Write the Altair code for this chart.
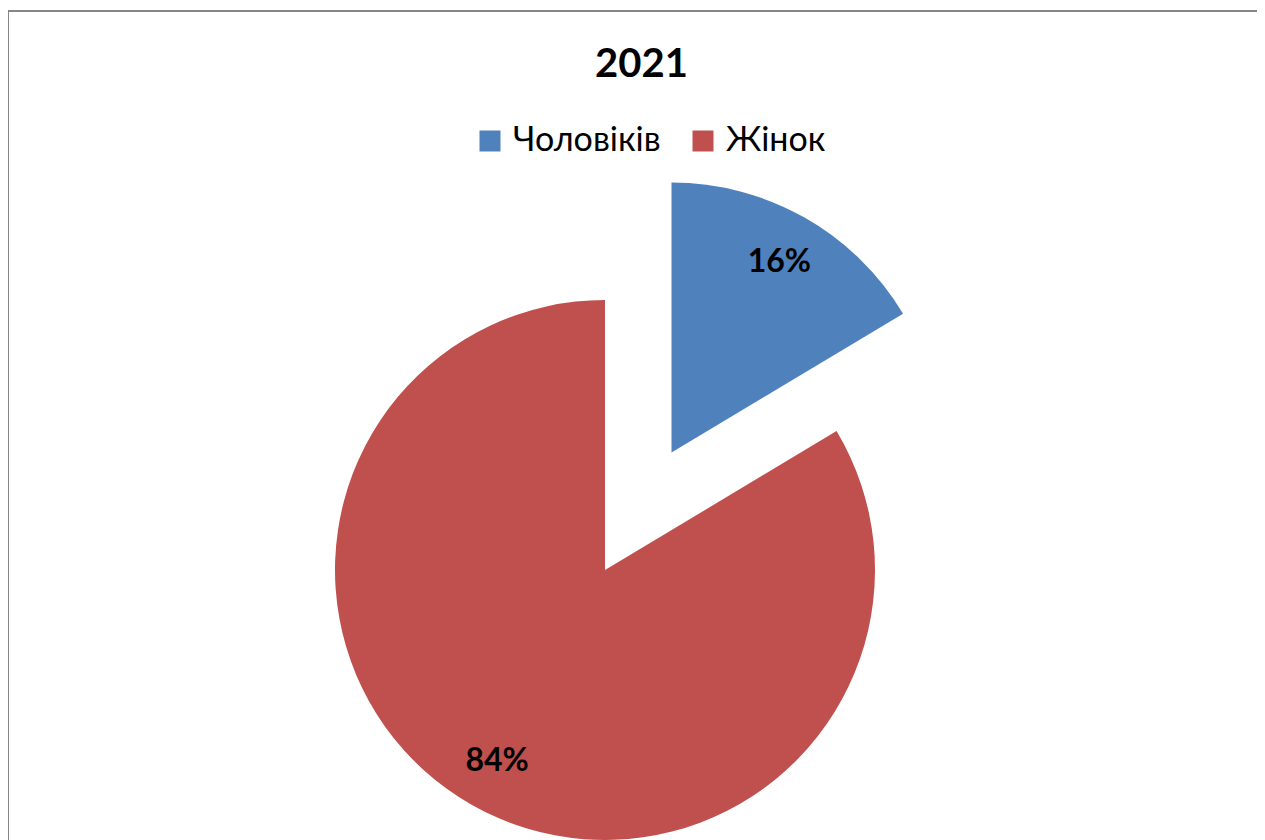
import altair as alt
import pandas as pd

# ---- data ----
TITLE = ["2021"]
CATEGORIES = ["Чоловіків", "Жінок"]
VALUES = [16.4, 83.6]

# ---- style ----
COLORS = ["#4F81BD", "#C0504D"]
EXPLODE = {"Чоловіків": 135, "Жінок": 0}
W, H = 1249, 830
CX, CY = 597, 559
R = 270
LABEL_R = 219
FONT = "Lato"

df = pd.DataFrame({"category": CATEGORIES, "value": VALUES})
df["order"] = range(len(df))
df["explode"] = df["category"].map(EXPLODE)

base = (
    alt.Chart(df)
    .transform_joinaggregate(total="sum(value)")
    .transform_window(cum="sum(value)", frame=[None, 0], sort=[alt.SortField("order")])
    .transform_calculate(
        t0="(datum.cum - datum.value) / datum.total * 2 * PI",
        t1="datum.cum / datum.total * 2 * PI",
    )
    .transform_calculate(mid="(datum.t0 + datum.t1) / 2")
    .transform_calculate(
        cx=f"{CX} + datum.explode * sin(datum.mid)",
        cy=f"{CY} - datum.explode * cos(datum.mid)",
    )
    .transform_calculate(
        lx=f"datum.cx + {LABEL_R} * sin(datum.mid)",
        ly=f"datum.cy - {LABEL_R} * cos(datum.mid)",
        pct="format(datum.value / datum.total, '.0%')",
    )
)

arcs = base.mark_arc(outerRadius=R).encode(
    x=alt.X("cx:Q", scale=None, axis=None),
    y=alt.Y("cy:Q", scale=None, axis=None),
    theta=alt.Theta("t0:Q", scale=None, stack=None),
    theta2="t1:Q",
    color=alt.Color(
        "category:N",
        sort=CATEGORIES,
        scale=alt.Scale(domain=CATEGORIES, range=COLORS),
        legend=alt.Legend(
            title=None,
            orient="none",
            legendX=465,
            legendY=113,
            direction="horizontal",
            symbolType="square",
            symbolSize=441,
            symbolStrokeWidth=0,
            symbolOpacity=1,
            labelFont=FONT,
            labelFontSize=34,
            labelColor="black",
            labelOffset=6,
            columnPadding=25,
            padding=0,
        ),
    ),
)

labels = base.mark_text(
    font=FONT, fontSize=32, fontWeight="bold", color="black",
    align="center", baseline="middle",
).encode(
    x=alt.X("lx:Q", scale=None, axis=None),
    y=alt.Y("ly:Q", scale=None, axis=None),
    text="pct:N",
)

title = alt.Chart(pd.DataFrame({"t": TITLE})).mark_text(
    font=FONT, fontSize=40, fontWeight="bold", color="black",
    align="center", baseline="alphabetic",
).encode(x=alt.value(633.5), y=alt.value(66), text="t:N")

one = pd.DataFrame({"a": [0]})
top_rule = alt.Chart(one).mark_rule(color="#868686", strokeWidth=2).encode(
    x=alt.value(0), x2=alt.value(W), y=alt.value(0)
)
left_rule = alt.Chart(one).mark_rule(color="#868686", strokeWidth=2).encode(
    x=alt.value(0), y=alt.value(0), y2=alt.value(H)
)

chart = (
    alt.layer(top_rule, left_rule, arcs, labels, title)
    .properties(
        width=W, height=H, autosize="none",
        padding={"left": 0, "top": 3, "right": 0, "bottom": 3},
    )
    .configure_view(stroke=None)
)

chart.save("out.html", embed_options={"renderer": "svg", "actions": False})
